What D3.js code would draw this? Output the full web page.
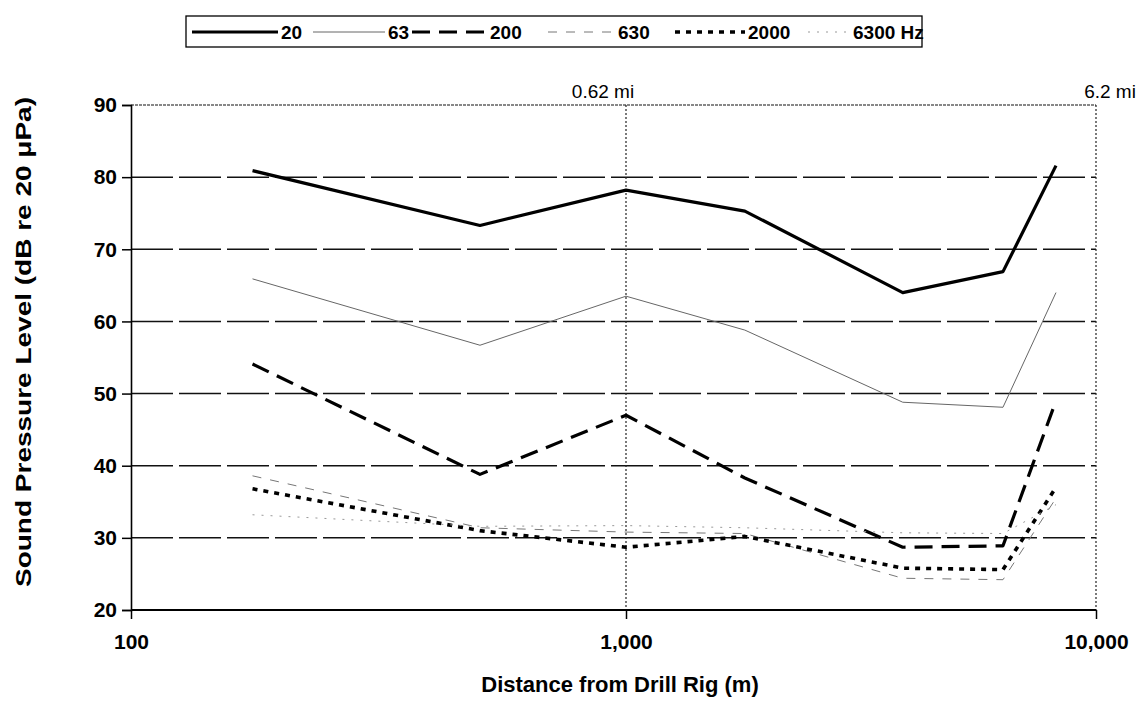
<!DOCTYPE html>
<meta charset="utf-8">
<script src="https://d3js.org/d3.v7.min.js"></script>
<style>
  body { margin: 0; background: #fff; }
  text { font-family: Arial, "Liberation Sans", sans-serif; fill: #000; }
  .tick-label { font-weight: bold; font-size: 21px; }
  .title { font-weight: bold; font-size: 22px; }
  .leg { font-weight: bold; font-size: 19px; }
  .mi { font-size: 19px; }
</style>
<body></body>
<script>

// distances (m) and levels (dB re 20 uPa) per one-third octave band
var distances = [176, 507, 1000, 1790, 3880, 6340, 8220];
var spl20   = [80.9, 73.3, 78.2, 75.3, 64.0, 66.9, 81.6];
var spl63   = [65.9, 56.7, 63.5, 58.8, 48.8, 48.1, 64.0];
var spl200  = [54.1, 38.8, 47.0, 38.3, 28.7, 28.9, 49.0];
var spl630  = [38.6, 31.4, 30.8, 30.6, 24.4, 24.2, 35.5];
var spl2000 = [36.8, 31.0, 28.7, 30.2, 25.8, 25.6, 37.0];
var spl6300 = [33.2, 31.6, 31.7, 31.4, 30.7, 30.6, 34.6];

var bandNames = ["20", "63", "200", "630", "2000", "6300 Hz"];
var yTicks = [20, 30, 40, 50, 60, 70, 80, 90];
var xTicks = [100, 1000, 10000];
var miLabels = [{d: 1000, t: "0.62 mi", dx: -23}, {d: 10000, t: "6.2 mi", dx: 14}];

var series = [
  {name: bandNames[0], values: spl20,   width: 3.2, color: "#000", dash: null},
  {name: bandNames[1], values: spl63,   width: 1,   color: "#666", dash: null},
  {name: bandNames[2], values: spl200,  width: 3.2, color: "#000", dash: "18,9"},
  {name: bandNames[3], values: spl630,  width: 1,   color: "#777", dash: "9,9"},
  {name: bandNames[4], values: spl2000, width: 3.6, color: "#000", dash: "5,6"},
  {name: bandNames[5], values: spl6300, width: 1,   color: "#999", dash: "2,7"}
];

var width = 1144, height = 715;
var svg = d3.select("body").append("svg")
    .attr("width", width)
    .attr("height", height);

// scanned original is slightly uneven between decades
var x = d3.scaleLog().domain([100, 1000, 10000]).range([131, 626, 1096]);
var y = d3.scaleLinear().domain([20, 90]).range([610, 105]);

// horizontal grid
svg.selectAll(".hgrid").data(yTicks.slice(1)).enter().append("line")
    .attr("x1", x(100)).attr("x2", x(10000))
    .attr("y1", function(d) { return y(d); })
    .attr("y2", function(d) { return y(d); })
    .attr("stroke", "#111")
    .attr("stroke-width", function(d) { return d == 90 ? 1.2 : 1.5; })
    .attr("stroke-dasharray", function(d) { return d == 90 ? "3,1" : "42,6"; });

// vertical grid at 1,000 and right border
svg.selectAll(".vgrid").data([1000, 10000]).enter().append("line")
    .attr("x1", function(d) { return x(d); })
    .attr("x2", function(d) { return x(d); })
    .attr("y1", y(90)).attr("y2", y(20))
    .attr("stroke", "#222")
    .attr("stroke-width", 1.2)
    .attr("stroke-dasharray", "2,2");

// axes
var yAxis = d3.axisLeft(y).tickValues(yTicks).tickSize(9).tickFormat(d3.format("d"));
var gy = svg.append("g").attr("transform", "translate(" + x(100) + ",0)").call(yAxis);
gy.select(".domain").attr("stroke-width", 1.6);
gy.selectAll(".tick line").attr("stroke-width", 1.5);
gy.selectAll(".tick text").attr("class", "tick-label").attr("x", -14).attr("font-family", null).attr("font-size", null);

var xAxis = d3.axisBottom(x).tickValues(xTicks).tickSize(9).tickFormat(d3.format(","));
var gx = svg.append("g").attr("transform", "translate(0," + y(20) + ")").call(xAxis);
gx.select(".domain").attr("stroke-width", 1.8).attr("d", "M" + x(100) + ",0H" + x(10000));
gx.selectAll(".tick line").attr("stroke-width", 1.5);
gx.selectAll(".tick text").attr("class", "tick-label").attr("y", 24).attr("font-family", null).attr("font-size", null);

// mile markers
svg.selectAll(".mi").data(miLabels).enter().append("text")
    .attr("class", "mi")
    .attr("x", function(d) { return x(d.d) + d.dx; })
    .attr("y", 98)
    .attr("text-anchor", "middle")
    .text(function(d) { return d.t; });

// lines
var line = d3.line()
    .x(function(d, i) { return x(distances[i]); })
    .y(function(d) { return y(d); });

svg.selectAll(".series").data(series).enter().append("path")
    .attr("fill", "none")
    .attr("stroke", function(d) { return d.color; })
    .attr("stroke-width", function(d) { return d.width; })
    .attr("stroke-dasharray", function(d) { return d.dash; })
    .attr("stroke-linejoin", "round")
    .attr("d", function(d) { return line(d.values); });

// axis titles
svg.append("text").attr("class", "title")
    .attr("x", 620).attr("y", 692)
    .attr("text-anchor", "middle")
    .text("Distance from Drill Rig (m)");
svg.append("text").attr("class", "title")
    .attr("transform", "translate(31,342) rotate(-90)")
    .attr("text-anchor", "middle")
    .attr("textLength", 490)
    .attr("lengthAdjust", "spacingAndGlyphs")
    .text("Sound Pressure Level (dB re 20 \u03bcPa)");

// legend
var legX = [192, 313, 412, 548, 675, 808];
var legLen = [86, 72, 75, 67, 70, 42];
svg.append("rect")
    .attr("x", 186).attr("y", 16).attr("width", 736).attr("height", 31)
    .attr("fill", "none").attr("stroke", "#000").attr("stroke-width", 1.3);
var leg = svg.selectAll(".leg").data(series).enter().append("g");
leg.append("line")
    .attr("x1", function(d, i) { return legX[i]; })
    .attr("x2", function(d, i) { return legX[i] + legLen[i]; })
    .attr("y1", 32).attr("y2", 32)
    .attr("stroke", function(d) { return d.color; })
    .attr("stroke-width", function(d) { return d.width; })
    .attr("stroke-dasharray", function(d) { return d.dash; });
leg.append("text").attr("class", "leg")
    .attr("x", function(d, i) { return legX[i] + legLen[i] + 3; })
    .attr("y", 39)
    .text(function(d) { return d.name; });

</script>
